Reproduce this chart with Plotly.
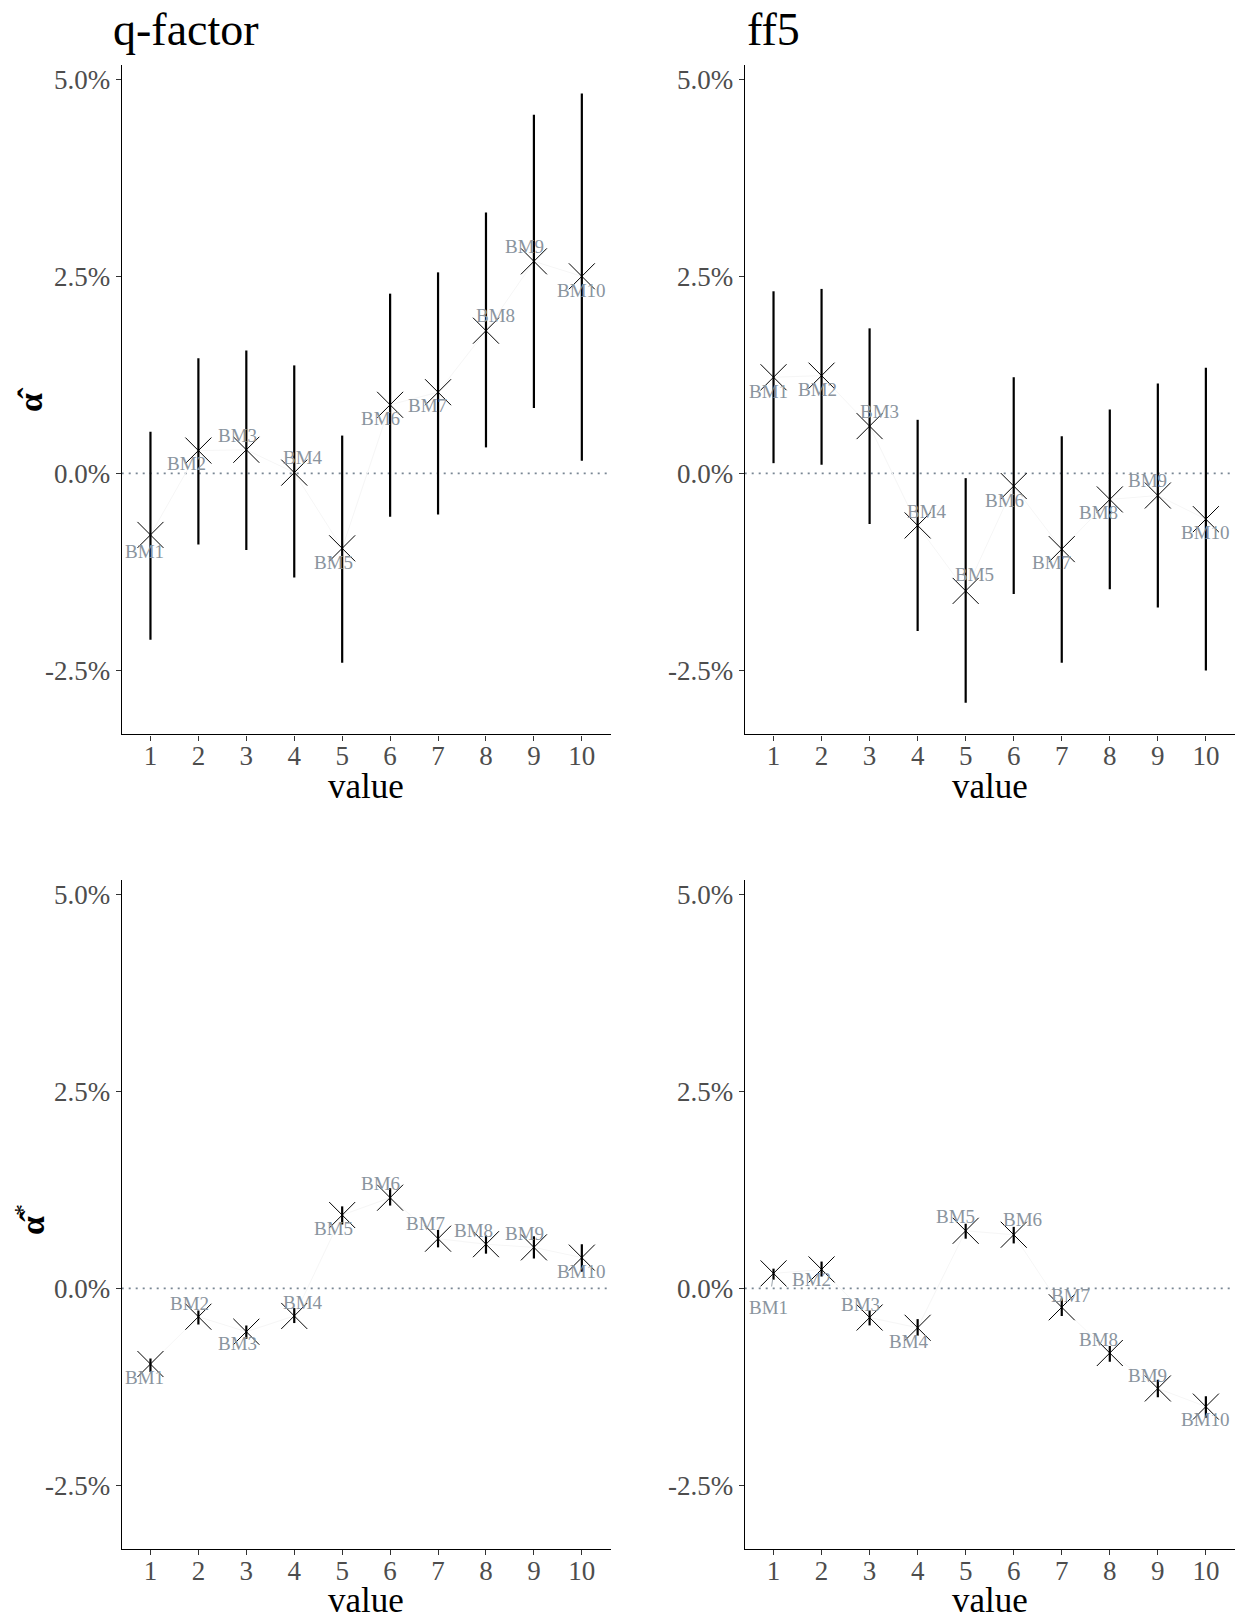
import plotly.graph_objects as go

# ---------------- data ----------------
categories = [1, 2, 3, 4, 5, 6, 7, 8, 9, 10]
labels = ["BM1", "BM2", "BM3", "BM4", "BM5", "BM6", "BM7", "BM8", "BM9", "BM10"]

# q-factor, alpha-hat (percent)
q_alpha = [-0.78, 0.29, 0.30, 0.01, -0.95, 0.87, 1.03, 1.81, 2.69, 2.50]
q_alpha_lo = [-2.11, -0.90, -0.97, -1.32, -2.40, -0.55, -0.52, 0.33, 0.83, 0.16]
q_alpha_hi = [0.53, 1.46, 1.56, 1.37, 0.48, 2.28, 2.55, 3.31, 4.55, 4.82]

# ff5, alpha-hat
f_alpha = [1.22, 1.24, 0.60, -0.66, -1.49, -0.16, -0.96, -0.33, -0.28, -0.58]
f_alpha_lo = [0.13, 0.11, -0.64, -2.00, -2.91, -1.53, -2.40, -1.47, -1.70, -2.50]
f_alpha_hi = [2.31, 2.34, 1.84, 0.68, -0.06, 1.22, 0.47, 0.81, 1.14, 1.34]

# q-factor, alpha-star
q_star = [-0.96, -0.36, -0.55, -0.35, 0.93, 1.15, 0.63, 0.56, 0.52, 0.39]
q_star_lo = [-1.06, -0.46, -0.64, -0.44, 0.81, 1.05, 0.52, 0.44, 0.38, 0.21]
q_star_hi = [-0.89, -0.28, -0.47, -0.25, 1.04, 1.27, 0.74, 0.67, 0.66, 0.56]

# ff5, alpha-star
f_star = [0.19, 0.24, -0.37, -0.50, 0.73, 0.68, -0.24, -0.82, -1.27, -1.50]
f_star_lo = [0.11, 0.15, -0.47, -0.60, 0.63, 0.57, -0.35, -0.93, -1.38, -1.64]
f_star_hi = [0.25, 0.34, -0.28, -0.39, 0.82, 0.78, -0.13, -0.73, -1.16, -1.37]

y_tickvals = [-2.5, 0.0, 2.5, 5.0]
y_ticktext = ["-2.5%", "0.0%", "2.5%", "5.0%"]
panel_titles = ["q-factor", "ff5"]
x_title = "value"
y_titles = ["<b>α̂</b>", "<b>α̂</b><sup>*</sup>"]

# ---------------- label placement (pixel offsets, label centre vs point) ----
off_tl = [(-6, 17), (-12, 13), (-9, -14), (9, -15), (-9, 14), (-10, 14), (-11, 13), (10, -15), (-9, -15), (0, 14)]
off_tr = [(-5, 14), (-4, 14), (10, -15), (9, -14), (9, -16), (-9, 14), (-10, 13), (-11, 13), (-10, -15), (0, 13)]
off_bl = [(-6, 13), (-9, -13), (-9, 12), (9, -13), (-9, 13), (-10, -14), (-13, -15), (-12, -14), (-9, -14), (0, 14)]
off_br = [(-5, 34), (-10, 10), (-9, -13), (-9, 14), (-10, -14), (9, -15), (9, -12), (-11, -14), (-10, -13), (0, 13)]

W, H = 1243, 1618
FONT = "Liberation Serif"
LABEL_COLOR = "#8a949e"
TICK_COLOR = "#4d4d4d"

def px_x(p):
    return p / W

def px_y(p):
    return 1 - p / H

x_doms = [[px_x(121.7), px_x(610.6)], [px_x(744.7), px_x(1234.7)]]
y_doms = [[px_y(734.4), px_y(65)], [px_y(1549.3), px_y(880)]]

panels = [
    (q_alpha, q_alpha_lo, q_alpha_hi, off_tl, 0, 0),
    (f_alpha, f_alpha_lo, f_alpha_hi, off_tr, 1, 0),
    (q_star, q_star_lo, q_star_hi, off_bl, 0, 1),
    (f_star, f_star_lo, f_star_hi, off_br, 1, 1),
]

fig = go.Figure()
annotations = []
shapes = []
layout_axes = {}

for i, (est, lo, hi, offs, col, row) in enumerate(panels):
    n = i + 1
    xa = "x" if n == 1 else f"x{n}"
    ya = "y" if n == 1 else f"y{n}"
    # faint connecting path
    fig.add_trace(go.Scatter(
        x=categories, y=est, xaxis=xa, yaxis=ya, mode="lines",
        line=dict(color="#f6f6f6", width=1), hoverinfo="skip", showlegend=False))
    # error bars + markers
    fig.add_trace(go.Scatter(
        x=categories, y=est, xaxis=xa, yaxis=ya, mode="markers",
        marker=dict(symbol="x-thin-open", size=26, color="black",
                    line=dict(color="black", width=1)),
        error_y=dict(type="data", symmetric=False,
                     array=[h - e for h, e in zip(hi, est)],
                     arrayminus=[e - l for e, l in zip(est, lo)],
                     width=0, thickness=2.2, color="black"),
        showlegend=False))
    # axes
    layout_axes["xaxis" if n == 1 else f"xaxis{n}"] = dict(
        domain=x_doms[col], anchor=ya, range=[0.4, 10.6],
        tickvals=categories, ticktext=[str(c) for c in categories],
        showline=True, linecolor="black", linewidth=1.3,
        ticks="outside", ticklen=5, tickcolor="#333333", tickwidth=1,
        ticklabelstandoff=-8,
        showgrid=False, zeroline=False,
        tickfont=dict(family=FONT, size=27, color=TICK_COLOR))
    layout_axes["yaxis" if n == 1 else f"yaxis{n}"] = dict(
        domain=y_doms[row], anchor=xa, range=[-3.31, 5.18],
        tickvals=y_tickvals, ticktext=y_ticktext,
        showline=True, linecolor="black", linewidth=1.3,
        ticks="outside", ticklen=5, tickcolor="#333333", tickwidth=1,
        showgrid=False, zeroline=False,
        tickfont=dict(family=FONT, size=27, color=TICK_COLOR))
    # dotted zero line
    shapes.append(dict(type="line", xref=f"{xa} domain", yref=ya,
                       x0=0, x1=1, y0=0, y1=0,
                       line=dict(color="#7a8794", width=1.6, dash="2px,5px"),
                       layer="below"))
    # point labels
    for j, (c, e, lab) in enumerate(zip(categories, est, labels)):
        dx, dy = offs[j]
        if n == 4 and j == 0:
            annotations.append(dict(
                x=c, y=e, xref=xa, yref=ya, text=lab, showarrow=True,
                ax=dx, ay=dy, arrowhead=0, arrowwidth=1, arrowcolor="#9aa3ab",
                standoff=6, startstandoff=9,
                font=dict(family=FONT, size=19, color=LABEL_COLOR)))
        else:
            annotations.append(dict(
                x=c, y=e, xref=xa, yref=ya, text=lab, showarrow=False,
                xshift=dx, yshift=-dy, xanchor="center", yanchor="middle",
                font=dict(family=FONT, size=19, color=LABEL_COLOR)))

# panel titles
for col, t in enumerate(panel_titles):
    annotations.append(dict(
        x=px_x([111, 745][col]), y=px_y(29), xref="paper", yref="paper",
        text=t, showarrow=False, xanchor="left", yanchor="middle",
        font=dict(family=FONT, size=46, color="black")))

# axis titles
for row in range(2):
    annotations.append(dict(
        x=px_x(30), y=px_y([400, 1220][row]), xref="paper", yref="paper",
        text=y_titles[row], showarrow=False, textangle=-90,
        xanchor="center", yanchor="middle",
        font=dict(family=FONT, size=34, color="black")))
    for col in range(2):
        annotations.append(dict(
            x=(x_doms[col][0] + x_doms[col][1]) / 2, y=px_y([786, 1600][row]),
            xref="paper", yref="paper", text=x_title, showarrow=False,
            xanchor="center", yanchor="middle",
            font=dict(family=FONT, size=35, color="black")))

fig.update_layout(
    width=W, height=H, margin=dict(l=0, r=0, t=0, b=0),
    paper_bgcolor="white", plot_bgcolor="white",
    showlegend=False, annotations=annotations, shapes=shapes,
    **layout_axes)

fig.write_html("out.html")
